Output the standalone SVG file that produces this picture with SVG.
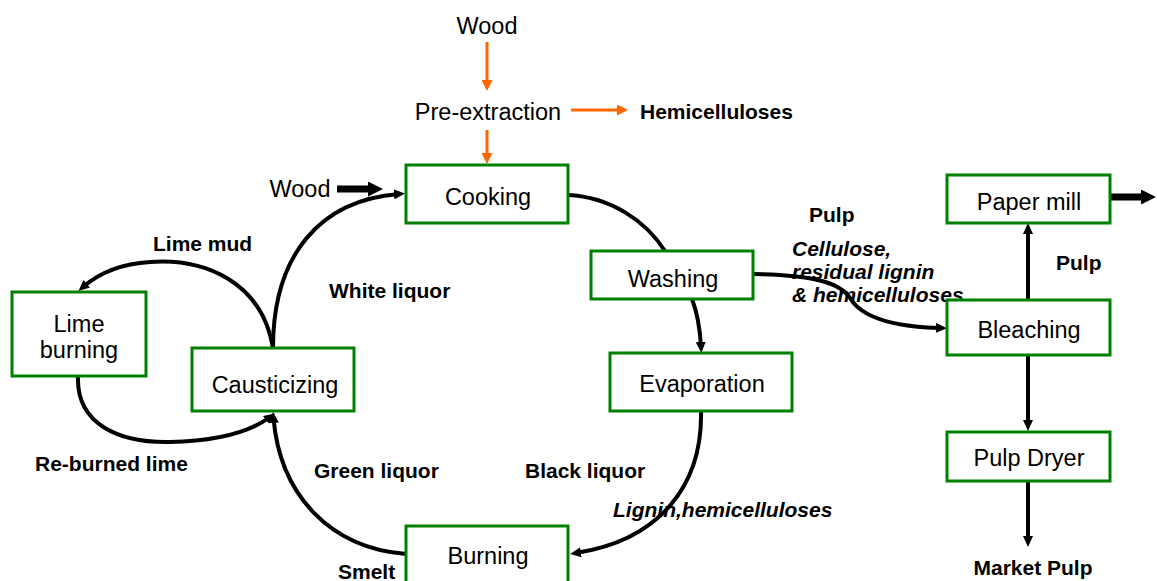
<svg xmlns="http://www.w3.org/2000/svg" width="1157" height="581" viewBox="0 0 1157 581">
<style>
.box{fill:#fff;stroke:#008000;stroke-width:3}
.lbl{font-family:"Liberation Sans",Arial,sans-serif;font-size:23.5px;fill:#000;text-anchor:middle}
.b{font-family:"Liberation Sans",Arial,sans-serif;font-size:21px;font-weight:bold;fill:#000}
.bi{font-family:"Liberation Sans",Arial,sans-serif;font-size:21px;font-weight:bold;font-style:italic;fill:#000}
.c{fill:none;stroke:#000;stroke-width:4}
.o{fill:none;stroke:#FF6600;stroke-width:3}
.t{fill:none;stroke:#000;stroke-width:7}
</style>
<defs>
<marker id="ah" viewBox="0 0 11 10" refX="5" refY="5" markerWidth="11" markerHeight="10" markerUnits="userSpaceOnUse" orient="auto"><path d="M0,0 L11,5 L0,10 z" fill="#000"/></marker>
<marker id="oh" viewBox="0 0 11 11" refX="5" refY="5.5" markerWidth="11" markerHeight="11" markerUnits="userSpaceOnUse" orient="auto"><path d="M0,0 L11,5.5 L0,11 z" fill="#FF6600"/></marker>
<marker id="th" viewBox="0 0 15 15" refX="0" refY="7.5" markerWidth="15" markerHeight="15" markerUnits="userSpaceOnUse" orient="auto"><path d="M0,0 L15,7.5 L0,15 z" fill="#000"/></marker>
</defs>
<g id="connectors">
<line class="o" x1="487" y1="42" x2="487" y2="85" marker-end="url(#oh)"/>
<line class="o" x1="571" y1="110" x2="622" y2="110" marker-end="url(#oh)"/>
<line class="o" x1="487" y1="130" x2="487" y2="158" marker-end="url(#oh)"/>
<line class="t" x1="337" y1="189" x2="368" y2="189" marker-end="url(#th)"/>
<line class="t" x1="1110" y1="197" x2="1141" y2="197" marker-end="url(#th)"/>
<path class="c" d="M568,195 C610,197 645,220 665,251"/>
<path class="c" d="M692,299 C697,312 700,328 701,347" marker-end="url(#ah)"/>
<path class="c" d="M753,274 C815,275 840,283 850,298 C862,318 895,327 941,328" marker-end="url(#ah)"/>
<path class="c" d="M701,410 C703,485 660,540 576,553" marker-end="url(#ah)"/>
<path class="c" d="M406,554 C330,548 280,495 273.5,418" marker-end="url(#ah)"/>
<path class="c" d="M78,376 C76,425 120,443 170,442 C215,441 250,432 270,417" marker-end="url(#ah)"/>
<path class="c" d="M273,348 C262,282 205,258 150,262 C118,264 98,274 83,287" marker-end="url(#ah)"/>
<path class="c" d="M273,348 C273,255 320,200 399,194" marker-end="url(#ah)"/>
<line class="c" x1="1028" y1="299" x2="1028" y2="229" marker-end="url(#ah)"/>
<line class="c" x1="1028" y1="355" x2="1028" y2="425" marker-end="url(#ah)"/>
<line class="c" x1="1028" y1="481" x2="1028" y2="541" marker-end="url(#ah)"/>
</g>
<g id="labels">
<text class="lbl" x="487" y="34">Wood</text>
<text class="lbl" x="488" y="120">Pre-extraction</text>
<text class="b" x="640" y="119">Hemicelluloses</text>
<text class="lbl" x="300" y="197">Wood</text>
<text class="b" x="809" y="222">Pulp</text>
<text class="bi" x="792" y="256">Cellulose,</text>
<text class="bi" x="792" y="279">residual lignin</text>
<text class="bi" x="792" y="302">&amp; hemicelluloses</text>
<text class="b" x="1056" y="270">Pulp</text>
<text class="b" x="153" y="251">Lime mud</text>
<text class="b" x="329" y="298">White liquor</text>
<text class="b" x="35" y="471">Re-burned lime</text>
<text class="b" x="314" y="478">Green liquor</text>
<text class="b" x="525" y="478">Black liquor</text>
<text class="bi" x="613" y="517">Lignin,hemicelluloses</text>
<text class="b" x="338" y="579">Smelt</text>
<text class="b" x="1033" y="575" text-anchor="middle">Market Pulp</text>
</g>
<g id="cooking"><rect class="box" x="406" y="165" width="162" height="58"/><text class="lbl" x="488" y="205">Cooking</text></g>
<g id="washing"><rect class="box" x="591" y="251" width="162" height="48"/><text class="lbl" x="673" y="287">Washing</text></g>
<g id="evaporation"><rect class="box" x="610" y="353" width="182" height="58"/><text class="lbl" x="702" y="392">Evaporation</text></g>
<g id="burning"><rect class="box" x="406" y="526" width="162" height="60"/><text class="lbl" x="488" y="564">Burning</text></g>
<g id="causticizing"><rect class="box" x="192" y="348" width="162" height="63"/><text class="lbl" x="275" y="393">Causticizing</text></g>
<g id="lime-burning"><rect class="box" x="12" y="292" width="134" height="84"/><text class="lbl" x="79" y="332">Lime</text><text class="lbl" x="79" y="358">burning</text></g>
<g id="paper-mill"><rect class="box" x="947" y="175" width="163" height="48"/><text class="lbl" x="1029" y="210">Paper mill</text></g>
<g id="bleaching"><rect class="box" x="947" y="300" width="163" height="55"/><text class="lbl" x="1029" y="338">Bleaching</text></g>
<g id="pulp-dryer"><rect class="box" x="947" y="432" width="163" height="49"/><text class="lbl" x="1029" y="466">Pulp Dryer</text></g>
</svg>
